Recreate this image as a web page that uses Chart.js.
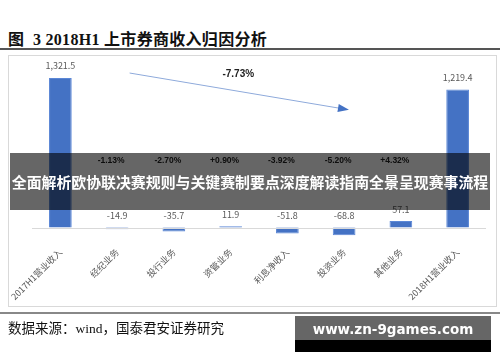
<!DOCTYPE html>
<html>
<head>
<meta charset="utf-8">
<script src="https://cdn.jsdelivr.net/npm/chart.js@4"></script>
<style>
  body { margin: 0; width: 500px; height: 362px; position: relative; background: #fff; overflow: hidden; }
  .title { position: absolute; left: 8px; top: 26px; font: bold 16px "Liberation Serif", "Noto Sans CJK SC", serif; letter-spacing: 0.3px; color: #111; white-space: nowrap; }
  .rule { position: absolute; left: 0; width: 500px; }
  .box { position: absolute; left: 8px; top: 55px; width: 489px; height: 252px; border: 1px solid #d9d9d9; box-sizing: border-box; }
  .source { position: absolute; left: 8px; top: 317px; font: 13.5px "Liberation Serif", "Noto Sans CJK SC", serif; color: #111; white-space: nowrap; }
  .banner { position: absolute; left: 10px; top: 153px; width: 480px; height: 57px; background: rgba(0,0,0,0.6);
            color: #fff; font: bold 14.9px "Noto Sans CJK SC", sans-serif; text-align: center; line-height: 57px; white-space: nowrap; }
  .mark { position: absolute; left: 295px; top: 316px; width: 196px; height: 36px; background: #000; }
  .mark div { height: 24px; background: #666; color: #fff; font: bold 13.5px "DejaVu Sans", sans-serif; text-align: center; line-height: 27px; }
  canvas { position: absolute; left: 0; top: 0; }
</style>
</head>
<body>
<div class="title">图&nbsp; 3 2018H1 上市券商收入归因分析</div>
<div class="rule" style="top:48px;height:2px;background:#555"></div>
<div class="box"></div>
<div style="position:absolute;left:0;top:0;width:500px;height:362px"><canvas id="chart"></canvas></div>
<div class="banner">全面解析欧协联决赛规则与关键赛制要点深度解读指南全景呈现赛事流程</div>
<div class="rule" style="top:312px;height:2px;background:#888"></div>
<div class="source">数据来源：wind，国泰君安证券研究</div>
<div class="mark"><div>www.zn-9games.com</div></div>
<script>
// categories and values (亿元)
const categories = ['2017H1营业收入', '经纪业务', '投行业务', '资管业务', '利息净收入', '投资业务', '其他业务', '2018H1营业收入'];
const values = [1321.5, -14.9, -35.7, 11.9, -51.8, -68.8, 57.1, 1219.4];
// contribution of each item to revenue change
const changePct = [null, '-1.13%', '-2.70%', '+0.90%', '-3.92%', '-5.20%', '+4.32%', null];
const totalChange = '-7.73%';
// arrow from/to as [category index, value]
const arrowFrom = [1.22, 1365];
const arrowTo = [5.05, 1043];

const pctLevel = 590;

function catPixel(scale, idx) {
    const i = Math.floor(idx);
    const a = scale.getPixelForValue(i);
    const b = scale.getPixelForValue(Math.min(i + 1, categories.length - 1));
    return a + (b - a) * (idx - i);
}

const labelsPlugin = {
    id: 'labels',
    afterDatasetsDraw(chart) {
        const ctx = chart.ctx;
        const x = chart.scales.x, y = chart.scales.y;
        const area = chart.chartArea;

        // zero line
        ctx.save();
        ctx.strokeStyle = '#d9d9d9';
        ctx.lineWidth = 1;
        const y0 = Math.round(y.getPixelForValue(0)) + 0.5;
        ctx.beginPath();
        ctx.moveTo(area.left, y0);
        ctx.lineTo(area.right, y0);
        ctx.stroke();

        // value labels
        ctx.font = '9px "Noto Sans CJK SC", sans-serif';
        ctx.fillStyle = '#595959';
        ctx.textAlign = 'center';
        ctx.textBaseline = 'middle';
        values.forEach((v, i) => {
            const txt = v.toLocaleString('en-US', { minimumFractionDigits: 1, maximumFractionDigits: 1 });
            ctx.fillText(txt, x.getPixelForValue(i), y.getPixelForValue(Math.max(v, 0)) - 12);
        });

        // change percentages
        ctx.font = 'bold 8.5px "Liberation Sans", sans-serif';
        ctx.fillStyle = '#222';
        changePct.forEach((p, i) => {
            if (!p) return;
            ctx.fillText(p, x.getPixelForValue(i) - 6, y.getPixelForValue(pctLevel));
        });

        // arrow
        const x1 = catPixel(x, arrowFrom[0]), y1 = y.getPixelForValue(arrowFrom[1]);
        const x2 = catPixel(x, arrowTo[0]), y2 = y.getPixelForValue(arrowTo[1]);
        ctx.strokeStyle = '#8eaadb';
        ctx.beginPath();
        ctx.moveTo(x1, y1);
        ctx.lineTo(x2, y2);
        ctx.stroke();
        const ang = Math.atan2(y2 - y1, x2 - x1);
        ctx.fillStyle = '#4472c4';
        ctx.beginPath();
        ctx.moveTo(x2 + 2, y2 + 2 * Math.tan(ang));
        ctx.lineTo(x2 - 9 * Math.cos(ang) + 4 * Math.sin(ang), y2 - 9 * Math.sin(ang) - 4 * Math.cos(ang));
        ctx.lineTo(x2 - 9 * Math.cos(ang) - 4 * Math.sin(ang), y2 - 9 * Math.sin(ang) + 4 * Math.cos(ang));
        ctx.closePath();
        ctx.fill();

        ctx.font = 'bold 10px "Liberation Sans", sans-serif';
        ctx.fillStyle = '#222';
        ctx.fillText(totalChange, (x1 + x2) / 2, y.getPixelForValue(1358));
        ctx.restore();
    }
};

new Chart(document.getElementById('chart'), {
    type: 'bar',
    data: {
        labels: categories,
        datasets: [{
            data: values,
            backgroundColor: '#4472c4',
            borderColor: '#5b87d6',
            borderWidth: 1,
            categoryPercentage: 1,
            barPercentage: 0.4
        }]
    },
    options: {
        responsive: true,
        maintainAspectRatio: false,
        animation: false,
        layout: { padding: { left: 32, right: 14, top: 60, bottom: 58 } },
        plugins: { legend: { display: false }, tooltip: { enabled: false } },
        scales: {
            y: { display: false, min: -80, max: 1480 },
            x: {
                grid: { display: false },
                border: { display: false },
                ticks: {
                    autoSkip: false,
                    minRotation: 45,
                    maxRotation: 45,
                    padding: 2,
                    color: '#595959',
                    font: { size: 9, family: '"Noto Sans CJK SC", sans-serif' }
                }
            }
        }
    },
    plugins: [labelsPlugin]
});
</script>
</body>
</html>
